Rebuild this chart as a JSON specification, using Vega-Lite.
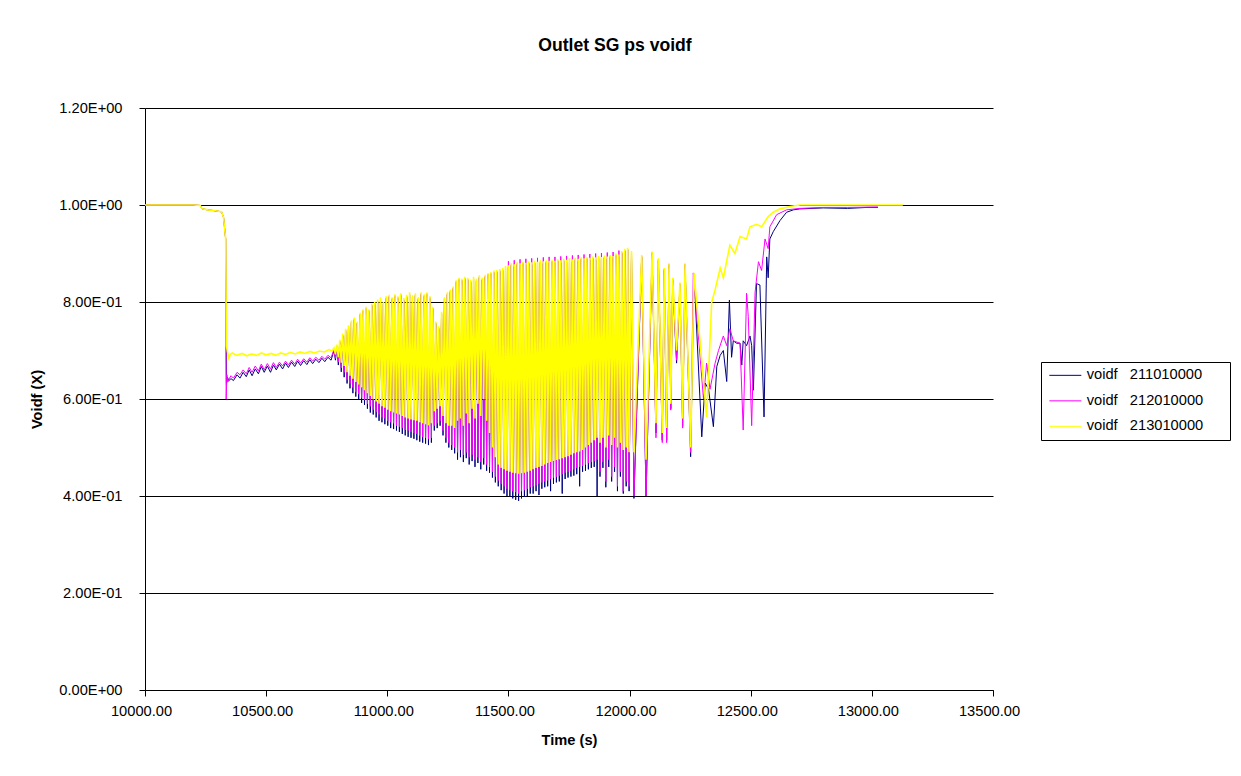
{
"$schema": "https://vega.github.io/schema/vega-lite/v6.json",
"width": 848,
"height": 582,
"autosize": {"type": "none"},
"padding": {"left": 145, "top": 108, "right": 248, "bottom": 86},
"background": "white",
"config": {"view": {"stroke": null}, "font": "Liberation Sans"},
"title": {"text": "Outlet SG ps voidf", "font": "Liberation Sans", "fontSize": 17.6, "fontWeight": "bold", "color": "#000", "anchor": "middle", "frame": "group", "baseline": "alphabetic", "offset": 31, "dx": 46},
"datasets": {
"a": [{"t":10000,"v":1},{"t":10100,"v":1},{"t":10200,"v":1},{"t":10228,"v":0.999},{"t":10236,"v":0.992},{"t":10260,"v":0.99},{"t":10290,"v":0.988},{"t":10316,"v":0.986},{"t":10324,"v":0.975},{"t":10328,"v":0.955},{"t":10333,"v":0.93},
{"t":10336,"v":0.63},{"t":10340,"v":0.645},{"t":10346,"v":0.638},{"t":10355,"v":0.642},{"t":10365,"v":0.638},{"t":10380,"v":0.65},{"t":10392,"v":0.643},{"t":10405,"v":0.655},{"t":10418,"v":0.646},{"t":10430,"v":0.66},{"t":10442,"v":0.648},{"t":10455,"v":0.662},{"t":10468,"v":0.652},{"t":10480,"v":0.667},{"t":10492,"v":0.655},{"t":10505,"v":0.668},{"t":10518,"v":0.655},{"t":10530,"v":0.67},{"t":10542,"v":0.66},{"t":10555,"v":0.672},{"t":10568,"v":0.662},{"t":10580,"v":0.674},{"t":10592,"v":0.665},{"t":10605,"v":0.676},{"t":10618,"v":0.667},{"t":10630,"v":0.678},{"t":10642,"v":0.669},{"t":10655,"v":0.679},{"t":10668,"v":0.671},{"t":10680,"v":0.681},{"t":10692,"v":0.673},{"t":10705,"v":0.682},{"t":10718,"v":0.675},{"t":10730,"v":0.684},{"t":10742,"v":0.677},{"t":10755,"v":0.686},{"t":10768,"v":0.68},
{"t":10780,"v":0.7},{"t":10786,"v":0.68},{"t":10792,"v":0.707},{"t":10798,"v":0.67},{"t":10804,"v":0.717},{"t":10810,"v":0.656},{"t":10816,"v":0.73},{"t":10822,"v":0.645},{"t":10828,"v":0.74},{"t":10834,"v":0.632},{"t":10840,"v":0.747},{"t":10846,"v":0.622},{"t":10852,"v":0.757},{"t":10858,"v":0.612},{"t":10864,"v":0.763},{"t":10870,"v":0.605},{"t":10876,"v":0.755},{"t":10882,"v":0.6},{"t":10888,"v":0.773},{"t":10894,"v":0.592},{"t":10900,"v":0.78},{"t":10906,"v":0.588},{"t":10912,"v":0.785},{"t":10918,"v":0.58},{"t":10924,"v":0.78},{"t":10930,"v":0.572},{"t":10936,"v":0.792},{"t":10942,"v":0.568},{"t":10948,"v":0.795},{"t":10954,"v":0.562},{"t":10960,"v":0.8},{"t":10966,"v":0.555},{"t":10972,"v":0.805},{"t":10978,"v":0.552},{"t":10984,"v":0.795},{"t":10990,"v":0.548},{"t":10996,"v":0.807},{"t":11002,"v":0.545},{"t":11008,"v":0.81},{"t":11014,"v":0.54},{"t":11020,"v":0.805},{"t":11026,"v":0.538},{"t":11032,"v":0.811},{"t":11038,"v":0.535},{"t":11044,"v":0.807},{"t":11050,"v":0.532},{"t":11056,"v":0.813},{"t":11062,"v":0.528},{"t":11068,"v":0.803},{"t":11074,"v":0.525},{"t":11080,"v":0.81},{"t":11086,"v":0.522},{"t":11092,"v":0.815},{"t":11098,"v":0.52},{"t":11104,"v":0.809},{"t":11110,"v":0.518},{"t":11116,"v":0.813},{"t":11122,"v":0.515},{"t":11128,"v":0.805},{"t":11134,"v":0.512},{"t":11140,"v":0.815},{"t":11146,"v":0.51},{"t":11152,"v":0.811},{"t":11158,"v":0.508},{"t":11164,"v":0.815},{"t":11170,"v":0.505},{"t":11176,"v":0.807},{"t":11182,"v":0.51},{"t":11188,"v":0.785},{"t":11194,"v":0.535},{"t":11200,"v":0.755},{"t":11206,"v":0.54},{"t":11212,"v":0.745},{"t":11218,"v":0.545},{"t":11224,"v":0.775},{"t":11230,"v":0.525},{"t":11236,"v":0.805},{"t":11242,"v":0.51},{"t":11248,"v":0.815},{"t":11254,"v":0.5},{"t":11260,"v":0.82},{"t":11266,"v":0.495},{"t":11272,"v":0.827},{"t":11278,"v":0.488},{"t":11284,"v":0.84},{"t":11290,"v":0.475},{"t":11296,"v":0.845},{"t":11302,"v":0.48},{"t":11308,"v":0.843},{"t":11314,"v":0.47},{"t":11320,"v":0.847},{"t":11326,"v":0.478},{"t":11332,"v":0.845},{"t":11338,"v":0.465},{"t":11344,"v":0.841},{"t":11350,"v":0.472},{"t":11356,"v":0.847},{"t":11362,"v":0.46},{"t":11368,"v":0.843},{"t":11374,"v":0.468},{"t":11380,"v":0.85},{"t":11386,"v":0.455},{"t":11392,"v":0.845},{"t":11398,"v":0.465},{"t":11404,"v":0.851},{"t":11410,"v":0.452},{"t":11416,"v":0.855},{"t":11422,"v":0.448},{"t":11428,"v":0.857},{"t":11434,"v":0.438},{"t":11440,"v":0.86},{"t":11446,"v":0.428},{"t":11452,"v":0.861},{"t":11458,"v":0.42},{"t":11464,"v":0.863},{"t":11470,"v":0.412},{"t":11476,"v":0.865},{"t":11482,"v":0.405},{"t":11488,"v":0.869},{"t":11494,"v":0.4},{"t":11500,"v":0.871},{"t":11506,"v":0.398},{"t":11512,"v":0.875},{"t":11518,"v":0.395},{"t":11524,"v":0.873},{"t":11530,"v":0.392},{"t":11536,"v":0.877},{"t":11542,"v":0.39},{"t":11548,"v":0.875},{"t":11554,"v":0.395},{"t":11560,"v":0.878},{"t":11566,"v":0.398},{"t":11572,"v":0.876},{"t":11578,"v":0.4},{"t":11584,"v":0.879},{"t":11590,"v":0.405},{"t":11596,"v":0.877},{"t":11602,"v":0.405},{"t":11608,"v":0.88},{"t":11614,"v":0.41},{"t":11620,"v":0.878},{"t":11626,"v":0.402},{"t":11632,"v":0.881},{"t":11638,"v":0.415},{"t":11644,"v":0.879},{"t":11650,"v":0.418},{"t":11656,"v":0.881},{"t":11662,"v":0.42},{"t":11668,"v":0.88},{"t":11674,"v":0.41},{"t":11680,"v":0.882},{"t":11686,"v":0.425},{"t":11692,"v":0.88},{"t":11698,"v":0.428},{"t":11704,"v":0.883},{"t":11710,"v":0.43},{"t":11716,"v":0.881},{"t":11722,"v":0.405},{"t":11728,"v":0.884},{"t":11734,"v":0.435},{"t":11740,"v":0.882},{"t":11746,"v":0.438},{"t":11752,"v":0.885},{"t":11758,"v":0.44},{"t":11764,"v":0.883},{"t":11770,"v":0.442},{"t":11776,"v":0.886},{"t":11782,"v":0.445},{"t":11788,"v":0.884},{"t":11794,"v":0.42},{"t":11800,"v":0.887},{"t":11806,"v":0.45},{"t":11812,"v":0.885},{"t":11818,"v":0.452},{"t":11824,"v":0.888},{"t":11830,"v":0.455},{"t":11836,"v":0.886},{"t":11842,"v":0.458},{"t":11848,"v":0.889},{"t":11854,"v":0.46},{"t":11860,"v":0.887},{"t":11866,"v":0.4},{"t":11872,"v":0.89},{"t":11878,"v":0.44},{"t":11884,"v":0.888},{"t":11890,"v":0.458},{"t":11896,"v":0.891},{"t":11902,"v":0.418},{"t":11908,"v":0.889},{"t":11914,"v":0.46},{"t":11920,"v":0.892},{"t":11926,"v":0.43},{"t":11932,"v":0.89},{"t":11938,"v":0.45},{"t":11944,"v":0.895},{"t":11950,"v":0.41},{"t":11956,"v":0.893},{"t":11962,"v":0.44},{"t":11968,"v":0.9},{"t":11974,"v":0.405},{"t":11980,"v":0.905},{"t":11986,"v":0.42},{"t":11992,"v":0.907},{"t":11998,"v":0.41},
{"t":12008,"v":0.9},{"t":12018,"v":0.395},{"t":12050,"v":0.892},{"t":12068,"v":0.4},{"t":12093,"v":0.9},{"t":12109,"v":0.53},{"t":12119,"v":0.885},{"t":12135,"v":0.515},{"t":12143,"v":0.865},{"t":12153,"v":0.515},{"t":12163,"v":0.875},{"t":12170,"v":0.58},{"t":12178,"v":0.845},{"t":12194,"v":0.674},{"t":12208,"v":0.835},{"t":12219,"v":0.545},{"t":12229,"v":0.875},{"t":12252,"v":0.481},{"t":12266,"v":0.858},{"t":12298,"v":0.522},{"t":12312,"v":0.633},{"t":12326,"v":0.62},{"t":12346,"v":0.543},{"t":12360,"v":0.667},{"t":12374,"v":0.69},{"t":12387,"v":0.7},{"t":12401,"v":0.636},{"t":12412,"v":0.804},{"t":12421,"v":0.686},{"t":12428,"v":0.72},{"t":12442,"v":0.715},{"t":12456,"v":0.715},{"t":12463,"v":0.67},{"t":12469,"v":0.72},{"t":12483,"v":0.71},{"t":12497,"v":0.73},{"t":12504,"v":0.71},{"t":12511,"v":0.618},{"t":12524,"v":0.838},{"t":12538,"v":0.835},{"t":12555,"v":0.563},{"t":12566,"v":0.893},{"t":12572,"v":0.85},{"t":12579,"v":0.93},{"t":12593,"v":0.945},{"t":12621,"v":0.968},{"t":12648,"v":0.985},{"t":12676,"v":0.99},{"t":12703,"v":0.992},{"t":12800,"v":0.994},{"t":12900,"v":0.993},{"t":12980,"v":0.995},{"t":13025,"v":0.995}],
"b": [{"t":10000,"v":1},{"t":10100,"v":1},{"t":10200,"v":1},{"t":10228,"v":0.999},{"t":10236,"v":0.992},{"t":10260,"v":0.99},{"t":10290,"v":0.988},{"t":10316,"v":0.986},{"t":10324,"v":0.975},{"t":10328,"v":0.955},{"t":10333,"v":0.93},
{"t":10335,"v":0.6},{"t":10338,"v":0.65},{"t":10342,"v":0.635},{"t":10345,"v":0.64},{"t":10355,"v":0.648},{"t":10365,"v":0.643},{"t":10380,"v":0.655},{"t":10392,"v":0.65},{"t":10405,"v":0.66},{"t":10418,"v":0.652},{"t":10430,"v":0.665},{"t":10442,"v":0.655},{"t":10455,"v":0.668},{"t":10468,"v":0.658},{"t":10480,"v":0.672},{"t":10492,"v":0.66},{"t":10505,"v":0.673},{"t":10518,"v":0.662},{"t":10530,"v":0.675},{"t":10542,"v":0.665},{"t":10555,"v":0.676},{"t":10568,"v":0.668},{"t":10580,"v":0.678},{"t":10592,"v":0.67},{"t":10605,"v":0.68},{"t":10618,"v":0.672},{"t":10630,"v":0.682},{"t":10642,"v":0.674},{"t":10655,"v":0.683},{"t":10668,"v":0.676},{"t":10680,"v":0.685},{"t":10692,"v":0.678},{"t":10705,"v":0.686},{"t":10718,"v":0.68},{"t":10730,"v":0.688},{"t":10742,"v":0.682},{"t":10755,"v":0.69},{"t":10768,"v":0.685},
{"t":10780,"v":0.702},{"t":10786,"v":0.684},{"t":10792,"v":0.709},{"t":10798,"v":0.676},{"t":10804,"v":0.719},{"t":10810,"v":0.664},{"t":10816,"v":0.732},{"t":10822,"v":0.655},{"t":10828,"v":0.742},{"t":10834,"v":0.64},{"t":10840,"v":0.749},{"t":10846,"v":0.632},{"t":10852,"v":0.759},{"t":10858,"v":0.624},{"t":10864,"v":0.765},{"t":10870,"v":0.615},{"t":10876,"v":0.757},{"t":10882,"v":0.61},{"t":10888,"v":0.775},{"t":10894,"v":0.603},{"t":10900,"v":0.782},{"t":10906,"v":0.598},{"t":10912,"v":0.787},{"t":10918,"v":0.59},{"t":10924,"v":0.782},{"t":10930,"v":0.585},{"t":10936,"v":0.794},{"t":10942,"v":0.578},{"t":10948,"v":0.797},{"t":10954,"v":0.573},{"t":10960,"v":0.802},{"t":10966,"v":0.568},{"t":10972,"v":0.807},{"t":10978,"v":0.562},{"t":10984,"v":0.797},{"t":10990,"v":0.56},{"t":10996,"v":0.809},{"t":11002,"v":0.555},{"t":11008,"v":0.812},{"t":11014,"v":0.552},{"t":11020,"v":0.807},{"t":11026,"v":0.55},{"t":11032,"v":0.813},{"t":11038,"v":0.545},{"t":11044,"v":0.809},{"t":11050,"v":0.543},{"t":11056,"v":0.815},{"t":11062,"v":0.54},{"t":11068,"v":0.805},{"t":11074,"v":0.536},{"t":11080,"v":0.812},{"t":11086,"v":0.535},{"t":11092,"v":0.817},{"t":11098,"v":0.532},{"t":11104,"v":0.811},{"t":11110,"v":0.53},{"t":11116,"v":0.815},{"t":11122,"v":0.528},{"t":11128,"v":0.807},{"t":11134,"v":0.525},{"t":11140,"v":0.817},{"t":11146,"v":0.522},{"t":11152,"v":0.813},{"t":11158,"v":0.52},{"t":11164,"v":0.817},{"t":11170,"v":0.518},{"t":11176,"v":0.809},{"t":11182,"v":0.52},{"t":11188,"v":0.787},{"t":11194,"v":0.545},{"t":11200,"v":0.757},{"t":11206,"v":0.55},{"t":11212,"v":0.747},{"t":11218,"v":0.555},{"t":11224,"v":0.777},{"t":11230,"v":0.535},{"t":11236,"v":0.807},{"t":11242,"v":0.52},{"t":11248,"v":0.817},{"t":11254,"v":0.51},{"t":11260,"v":0.822},{"t":11266,"v":0.505},{"t":11272,"v":0.829},{"t":11278,"v":0.5},{"t":11284,"v":0.842},{"t":11290,"v":0.49},{"t":11296,"v":0.847},{"t":11302,"v":0.495},{"t":11308,"v":0.845},{"t":11314,"v":0.485},{"t":11320,"v":0.849},{"t":11326,"v":0.49},{"t":11332,"v":0.847},{"t":11338,"v":0.48},{"t":11344,"v":0.843},{"t":11350,"v":0.485},{"t":11356,"v":0.849},{"t":11362,"v":0.475},{"t":11368,"v":0.845},{"t":11374,"v":0.48},{"t":11380,"v":0.852},{"t":11386,"v":0.47},{"t":11392,"v":0.847},{"t":11398,"v":0.478},{"t":11404,"v":0.853},{"t":11410,"v":0.465},{"t":11416,"v":0.857},{"t":11422,"v":0.46},{"t":11428,"v":0.859},{"t":11434,"v":0.45},{"t":11440,"v":0.862},{"t":11446,"v":0.44},{"t":11452,"v":0.863},{"t":11458,"v":0.432},{"t":11464,"v":0.865},{"t":11470,"v":0.425},{"t":11476,"v":0.867},{"t":11482,"v":0.42},{"t":11488,"v":0.871},{"t":11494,"v":0.415},{"t":11500,"v":0.884},{"t":11506,"v":0.412},{"t":11512,"v":0.877},{"t":11518,"v":0.41},{"t":11524,"v":0.886},{"t":11530,"v":0.408},{"t":11536,"v":0.879},{"t":11542,"v":0.405},{"t":11548,"v":0.888},{"t":11554,"v":0.41},{"t":11560,"v":0.88},{"t":11566,"v":0.412},{"t":11572,"v":0.889},{"t":11578,"v":0.415},{"t":11584,"v":0.881},{"t":11590,"v":0.418},{"t":11596,"v":0.89},{"t":11602,"v":0.42},{"t":11608,"v":0.882},{"t":11614,"v":0.422},{"t":11620,"v":0.891},{"t":11626,"v":0.425},{"t":11632,"v":0.883},{"t":11638,"v":0.428},{"t":11644,"v":0.892},{"t":11650,"v":0.43},{"t":11656,"v":0.883},{"t":11662,"v":0.432},{"t":11668,"v":0.893},{"t":11674,"v":0.435},{"t":11680,"v":0.884},{"t":11686,"v":0.438},{"t":11692,"v":0.893},{"t":11698,"v":0.44},{"t":11704,"v":0.885},{"t":11710,"v":0.442},{"t":11716,"v":0.894},{"t":11722,"v":0.445},{"t":11728,"v":0.886},{"t":11734,"v":0.448},{"t":11740,"v":0.895},{"t":11746,"v":0.45},{"t":11752,"v":0.887},{"t":11758,"v":0.452},{"t":11764,"v":0.896},{"t":11770,"v":0.455},{"t":11776,"v":0.888},{"t":11782,"v":0.458},{"t":11788,"v":0.897},{"t":11794,"v":0.46},{"t":11800,"v":0.889},{"t":11806,"v":0.462},{"t":11812,"v":0.898},{"t":11818,"v":0.465},{"t":11824,"v":0.89},{"t":11830,"v":0.468},{"t":11836,"v":0.899},{"t":11842,"v":0.47},{"t":11848,"v":0.891},{"t":11854,"v":0.472},{"t":11860,"v":0.9},{"t":11866,"v":0.475},{"t":11872,"v":0.892},{"t":11878,"v":0.45},{"t":11884,"v":0.901},{"t":11890,"v":0.47},{"t":11896,"v":0.893},{"t":11902,"v":0.43},{"t":11908,"v":0.902},{"t":11914,"v":0.475},{"t":11920,"v":0.894},{"t":11926,"v":0.44},{"t":11932,"v":0.903},{"t":11938,"v":0.46},{"t":11944,"v":0.897},{"t":11950,"v":0.42},{"t":11956,"v":0.906},{"t":11962,"v":0.45},{"t":11968,"v":0.902},{"t":11974,"v":0.41},{"t":11980,"v":0.907},{"t":11986,"v":0.43},{"t":11992,"v":0.909},{"t":11998,"v":0.42},
{"t":12008,"v":0.902},{"t":12018,"v":0.4},{"t":12050,"v":0.895},{"t":12068,"v":0.4},{"t":12093,"v":0.902},{"t":12109,"v":0.52},{"t":12119,"v":0.888},{"t":12135,"v":0.51},{"t":12143,"v":0.868},{"t":12153,"v":0.51},{"t":12163,"v":0.878},{"t":12170,"v":0.577},{"t":12178,"v":0.848},{"t":12194,"v":0.68},{"t":12208,"v":0.838},{"t":12219,"v":0.54},{"t":12229,"v":0.878},{"t":12252,"v":0.49},{"t":12263,"v":0.86},{"t":12305,"v":0.6},{"t":12318,"v":0.674},{"t":12332,"v":0.62},{"t":12353,"v":0.674},{"t":12367,"v":0.7},{"t":12387,"v":0.73},{"t":12401,"v":0.71},{"t":12414,"v":0.745},{"t":12428,"v":0.72},{"t":12456,"v":0.715},{"t":12469,"v":0.536},{"t":12483,"v":0.818},{"t":12490,"v":0.77},{"t":12504,"v":0.545},{"t":12518,"v":0.82},{"t":12532,"v":0.883},{"t":12545,"v":0.865},{"t":12559,"v":0.93},{"t":12572,"v":0.91},{"t":12579,"v":0.955},{"t":12607,"v":0.98},{"t":12648,"v":0.99},{"t":12703,"v":0.993},{"t":12800,"v":0.995},{"t":12900,"v":0.995},{"t":13025,"v":0.996}],
"c": [{"t":10000,"v":1},{"t":10100,"v":1},{"t":10200,"v":1},{"t":10228,"v":0.999},{"t":10236,"v":0.992},{"t":10260,"v":0.99},{"t":10290,"v":0.988},{"t":10316,"v":0.986},{"t":10324,"v":0.975},{"t":10328,"v":0.955},{"t":10333,"v":0.93},
{"t":10336,"v":0.71},{"t":10340,"v":0.698},{"t":10346,"v":0.684},{"t":10352,"v":0.692},{"t":10360,"v":0.695},{"t":10380,"v":0.69},{"t":10400,"v":0.694},{"t":10420,"v":0.689},{"t":10440,"v":0.693},{"t":10460,"v":0.69},{"t":10480,"v":0.695},{"t":10500,"v":0.691},{"t":10520,"v":0.694},{"t":10540,"v":0.69},{"t":10560,"v":0.695},{"t":10580,"v":0.692},{"t":10600,"v":0.696},{"t":10620,"v":0.693},{"t":10640,"v":0.697},{"t":10660,"v":0.694},{"t":10680,"v":0.698},{"t":10700,"v":0.695},{"t":10720,"v":0.699},{"t":10740,"v":0.697},{"t":10760,"v":0.702},{"t":10772,"v":0.699},
{"t":10780,"v":0.705},{"t":10786,"v":0.692},{"t":10792,"v":0.712},{"t":10798,"v":0.686},{"t":10804,"v":0.722},{"t":10810,"v":0.675},{"t":10816,"v":0.735},{"t":10822,"v":0.668},{"t":10828,"v":0.745},{"t":10834,"v":0.655},{"t":10840,"v":0.752},{"t":10846,"v":0.648},{"t":10852,"v":0.762},{"t":10858,"v":0.642},{"t":10864,"v":0.768},{"t":10870,"v":0.635},{"t":10876,"v":0.76},{"t":10882,"v":0.63},{"t":10888,"v":0.778},{"t":10894,"v":0.624},{"t":10900,"v":0.785},{"t":10906,"v":0.618},{"t":10912,"v":0.79},{"t":10918,"v":0.612},{"t":10924,"v":0.785},{"t":10930,"v":0.606},{"t":10936,"v":0.797},{"t":10942,"v":0.6},{"t":10948,"v":0.8},{"t":10954,"v":0.595},{"t":10960,"v":0.805},{"t":10966,"v":0.59},{"t":10972,"v":0.81},{"t":10978,"v":0.585},{"t":10984,"v":0.8},{"t":10990,"v":0.582},{"t":10996,"v":0.812},{"t":11002,"v":0.578},{"t":11008,"v":0.815},{"t":11014,"v":0.575},{"t":11020,"v":0.81},{"t":11026,"v":0.572},{"t":11032,"v":0.816},{"t":11038,"v":0.57},{"t":11044,"v":0.812},{"t":11050,"v":0.568},{"t":11056,"v":0.818},{"t":11062,"v":0.565},{"t":11068,"v":0.808},{"t":11074,"v":0.562},{"t":11080,"v":0.815},{"t":11086,"v":0.56},{"t":11092,"v":0.82},{"t":11098,"v":0.558},{"t":11104,"v":0.814},{"t":11110,"v":0.556},{"t":11116,"v":0.818},{"t":11122,"v":0.555},{"t":11128,"v":0.81},{"t":11134,"v":0.552},{"t":11140,"v":0.82},{"t":11146,"v":0.55},{"t":11152,"v":0.816},{"t":11158,"v":0.548},{"t":11164,"v":0.82},{"t":11170,"v":0.546},{"t":11176,"v":0.812},{"t":11182,"v":0.55},{"t":11188,"v":0.79},{"t":11194,"v":0.575},{"t":11200,"v":0.76},{"t":11206,"v":0.58},{"t":11212,"v":0.75},{"t":11218,"v":0.585},{"t":11224,"v":0.78},{"t":11230,"v":0.565},{"t":11236,"v":0.81},{"t":11242,"v":0.55},{"t":11248,"v":0.82},{"t":11254,"v":0.545},{"t":11260,"v":0.825},{"t":11266,"v":0.545},{"t":11272,"v":0.832},{"t":11278,"v":0.54},{"t":11284,"v":0.845},{"t":11290,"v":0.555},{"t":11296,"v":0.85},{"t":11302,"v":0.56},{"t":11308,"v":0.848},{"t":11314,"v":0.545},{"t":11320,"v":0.852},{"t":11326,"v":0.57},{"t":11332,"v":0.85},{"t":11338,"v":0.55},{"t":11344,"v":0.846},{"t":11350,"v":0.58},{"t":11356,"v":0.852},{"t":11362,"v":0.56},{"t":11368,"v":0.848},{"t":11374,"v":0.59},{"t":11380,"v":0.855},{"t":11386,"v":0.565},{"t":11392,"v":0.85},{"t":11398,"v":0.6},{"t":11404,"v":0.856},{"t":11410,"v":0.555},{"t":11416,"v":0.86},{"t":11422,"v":0.53},{"t":11428,"v":0.862},{"t":11434,"v":0.5},{"t":11440,"v":0.865},{"t":11446,"v":0.48},{"t":11452,"v":0.866},{"t":11458,"v":0.465},{"t":11464,"v":0.868},{"t":11470,"v":0.458},{"t":11476,"v":0.87},{"t":11482,"v":0.455},{"t":11488,"v":0.874},{"t":11494,"v":0.452},{"t":11500,"v":0.876},{"t":11506,"v":0.45},{"t":11512,"v":0.88},{"t":11518,"v":0.448},{"t":11524,"v":0.878},{"t":11530,"v":0.447},{"t":11536,"v":0.882},{"t":11542,"v":0.446},{"t":11548,"v":0.88},{"t":11554,"v":0.447},{"t":11560,"v":0.883},{"t":11566,"v":0.448},{"t":11572,"v":0.881},{"t":11578,"v":0.45},{"t":11584,"v":0.884},{"t":11590,"v":0.452},{"t":11596,"v":0.882},{"t":11602,"v":0.455},{"t":11608,"v":0.885},{"t":11614,"v":0.458},{"t":11620,"v":0.883},{"t":11626,"v":0.46},{"t":11632,"v":0.886},{"t":11638,"v":0.462},{"t":11644,"v":0.884},{"t":11650,"v":0.465},{"t":11656,"v":0.886},{"t":11662,"v":0.468},{"t":11668,"v":0.885},{"t":11674,"v":0.47},{"t":11680,"v":0.887},{"t":11686,"v":0.472},{"t":11692,"v":0.885},{"t":11698,"v":0.474},{"t":11704,"v":0.888},{"t":11710,"v":0.476},{"t":11716,"v":0.886},{"t":11722,"v":0.478},{"t":11728,"v":0.889},{"t":11734,"v":0.48},{"t":11740,"v":0.887},{"t":11746,"v":0.482},{"t":11752,"v":0.89},{"t":11758,"v":0.485},{"t":11764,"v":0.888},{"t":11770,"v":0.488},{"t":11776,"v":0.891},{"t":11782,"v":0.49},{"t":11788,"v":0.889},{"t":11794,"v":0.492},{"t":11800,"v":0.892},{"t":11806,"v":0.495},{"t":11812,"v":0.89},{"t":11818,"v":0.5},{"t":11824,"v":0.893},{"t":11830,"v":0.505},{"t":11836,"v":0.891},{"t":11842,"v":0.51},{"t":11848,"v":0.894},{"t":11854,"v":0.515},{"t":11860,"v":0.892},{"t":11866,"v":0.52},{"t":11872,"v":0.895},{"t":11878,"v":0.51},{"t":11884,"v":0.893},{"t":11890,"v":0.52},{"t":11896,"v":0.896},{"t":11902,"v":0.5},{"t":11908,"v":0.894},{"t":11914,"v":0.525},{"t":11920,"v":0.897},{"t":11926,"v":0.505},{"t":11932,"v":0.895},{"t":11938,"v":0.52},{"t":11944,"v":0.9},{"t":11950,"v":0.5},{"t":11956,"v":0.898},{"t":11962,"v":0.51},{"t":11968,"v":0.905},{"t":11974,"v":0.495},{"t":11980,"v":0.91},{"t":11986,"v":0.5},{"t":11992,"v":0.912},{"t":11998,"v":0.49},
{"t":12008,"v":0.905},{"t":12018,"v":0.49},{"t":12050,"v":0.897},{"t":12068,"v":0.475},{"t":12093,"v":0.904},{"t":12109,"v":0.55},{"t":12119,"v":0.89},{"t":12135,"v":0.53},{"t":12143,"v":0.87},{"t":12153,"v":0.54},{"t":12163,"v":0.88},{"t":12170,"v":0.59},{"t":12178,"v":0.85},{"t":12194,"v":0.7},{"t":12208,"v":0.84},{"t":12219,"v":0.56},{"t":12229,"v":0.88},{"t":12252,"v":0.5},{"t":12266,"v":0.86},{"t":12318,"v":0.563},{"t":12339,"v":0.8},{"t":12353,"v":0.825},{"t":12374,"v":0.87},{"t":12387,"v":0.85},{"t":12414,"v":0.917},{"t":12435,"v":0.9},{"t":12456,"v":0.935},{"t":12483,"v":0.93},{"t":12497,"v":0.955},{"t":12524,"v":0.96},{"t":12545,"v":0.955},{"t":12572,"v":0.976},{"t":12593,"v":0.985},{"t":12621,"v":0.992},{"t":12662,"v":0.997},{"t":12703,"v":1},{"t":12800,"v":1},{"t":12900,"v":1},{"t":13000,"v":1},{"t":13128,"v":1}]
},
"encoding": {
"x": {"field": "t", "type": "quantitative", "scale": {"domain": [10000, 13500], "nice": false, "zero": false},
 "axis": {"title": "Time (s)", "values": [10000,10500,11000,11500,12000,12500,13000,13500], "format": ".2f", "grid": false, "domainColor": "#000", "tickColor": "#000", "tickSize": 6, "labelFont": "Liberation Sans", "labelFontSize": 14.67, "labelColor": "#000", "labelPadding": 7, "labelOffset": -4, "labelFlush": false, "labelOverlap": false, "labelBaseline": "top", "titleFont": "Liberation Sans", "titleFontSize": 14.67, "titleFontWeight": "bold", "titleColor": "#000", "titleX": 424, "titleY": 50, "titleBaseline": "middle", "titleAlign": "center"}},
"y": {"field": "v", "type": "quantitative", "scale": {"domain": [0, 1.2], "nice": false, "zero": false},
 "axis": {"title": "Voidf (X)", "values": [0,0.2,0.4,0.6,0.8,1,1.2], "labelExpr": "datum.value == 0 ? '0.00E+00' : (datum.value >= 1 ? format(datum.value, '.2f') + 'E+00' : format(datum.value * 10, '.2f') + 'E-01')", "grid": true, "gridColor": "#000", "gridWidth": 1, "domainColor": "#000", "tickColor": "#000", "tickSize": 6, "labelFont": "Liberation Sans", "labelFontSize": 14.67, "labelColor": "#000", "labelPadding": 17, "labelFlush": false, "labelOverlap": false, "titleFont": "Liberation Sans", "titleFontSize": 14.67, "titleFontWeight": "bold", "titleColor": "#000", "titleX": -108, "titleY": 291, "titleAngle": -90, "titleBaseline": "middle", "titleAlign": "center"}}
},
"layer": [
{"data": {"name": "a"}, "mark": {"type": "line", "strokeWidth": 1},
 "encoding": {"color": {"datum": "voidf\u00a0\u00a0\u00a0211010000", "type": "nominal",
  "scale": {"domain": ["voidf\u00a0\u00a0\u00a0211010000", "voidf\u00a0\u00a0\u00a0212010000", "voidf\u00a0\u00a0\u00a0213010000"], "range": ["#000080", "#FF00FF", "#FFFF00"]},
  "legend": {"title": null, "orient": "none", "legendX": 896, "legendY": 254, "strokeColor": "#000", "fillColor": "white", "padding": 6, "symbolType": "M-3.2,0H3.2", "symbolSize": 100, "symbolStrokeWidth": 1, "symbolOffset": 11, "labelOffset": 14, "labelFont": "Liberation Sans", "labelFontSize": 14.67, "labelColor": "#000", "rowPadding": 9.5, "labelExpr": "datum.label + '\u00a0\u00a0\u00a0\u00a0\u00a0\u200b'"}}}},
{"data": {"name": "b"}, "mark": {"type": "line", "strokeWidth": 1},
 "encoding": {"color": {"datum": "voidf\u00a0\u00a0\u00a0212010000", "type": "nominal"}}},
{"data": {"name": "c"}, "mark": {"type": "line", "strokeWidth": 1.6},
 "encoding": {"color": {"datum": "voidf\u00a0\u00a0\u00a0213010000", "type": "nominal"}}}
]
}
